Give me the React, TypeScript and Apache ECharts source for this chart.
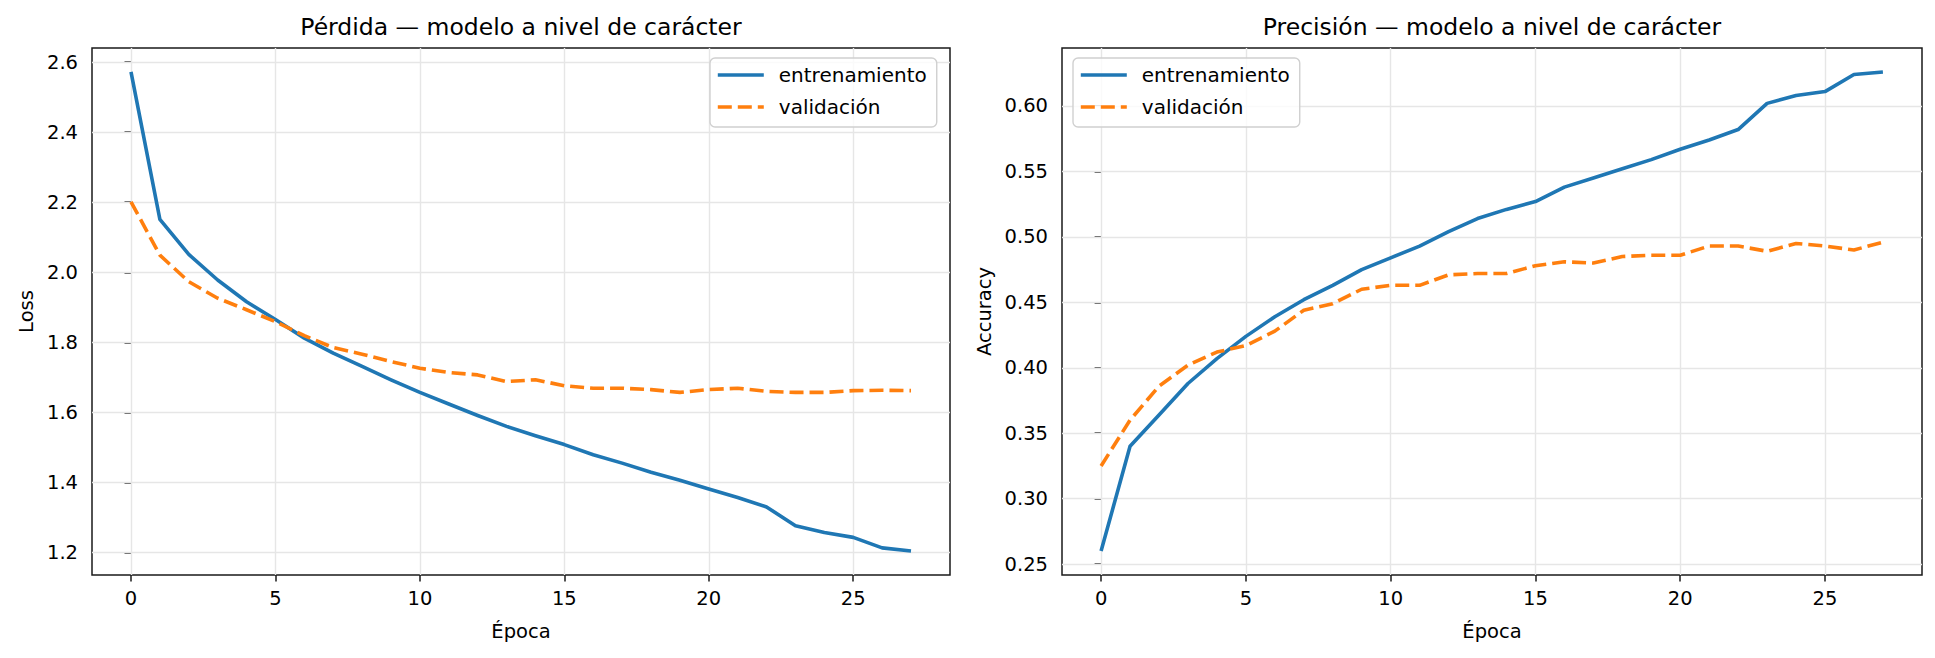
import React, { useEffect, useRef } from "react";
import * as echarts from "echarts";

const epochs = [0, 1, 2, 3, 4, 5, 6, 7, 8, 9, 10, 11, 12, 13, 14, 15, 16, 17, 18, 19, 20, 21, 22, 23, 24, 25, 26, 27];

const lossTrain = [2.572, 2.151, 2.051, 1.978, 1.916, 1.865, 1.812, 1.769, 1.731, 1.693, 1.657, 1.624, 1.591, 1.560, 1.533, 1.508, 1.479, 1.455, 1.429, 1.406, 1.381, 1.357, 1.330, 1.276, 1.257, 1.243, 1.213, 1.204];
const lossVal = [2.201, 2.049, 1.973, 1.926, 1.893, 1.859, 1.819, 1.785, 1.766, 1.745, 1.726, 1.714, 1.707, 1.688, 1.693, 1.676, 1.669, 1.669, 1.665, 1.657, 1.665, 1.669, 1.660, 1.657, 1.657, 1.662, 1.663, 1.662];

const accTrain = [0.260, 0.340, 0.364, 0.388, 0.407, 0.424, 0.439, 0.452, 0.463, 0.475, 0.484, 0.493, 0.504, 0.514, 0.521, 0.527, 0.538, 0.545, 0.552, 0.559, 0.567, 0.574, 0.582, 0.602, 0.608, 0.611, 0.624, 0.626];
const accVal = [0.325, 0.360, 0.386, 0.402, 0.412, 0.417, 0.428, 0.444, 0.449, 0.460, 0.463, 0.463, 0.471, 0.472, 0.472, 0.478, 0.481, 0.480, 0.485, 0.486, 0.486, 0.493, 0.493, 0.489, 0.495, 0.493, 0.490, 0.496];

const xTicks = [0, 5, 10, 15, 20, 25];
const lossTicks = [1.2, 1.4, 1.6, 1.8, 2.0, 2.2, 2.4, 2.6];
const accTicks = [0.25, 0.3, 0.35, 0.4, 0.45, 0.5, 0.55, 0.6];

const titles = ["Pérdida — modelo a nivel de carácter", "Precisión — modelo a nivel de carácter"];
const seriesNames = ["entrenamiento", "validación"];
const xName = "Época";
const yNames = ["Loss", "Accuracy"];

const FONT = "DejaVu Sans";
const BLUE = "#1f77b4";
const ORANGE = "#ff7f0e";
const SPINE = "#1a1a1a";
const GRIDC = "#e6e6e6";
const LW = 3.6;

function padRange(arr: number[][]) {
  const all = arr.flat();
  const mn = Math.min(...all);
  const mx = Math.max(...all);
  const p = (mx - mn) * 0.05;
  return [mn - p, mx + p];
}

export default function App() {
  const ref = useRef<HTMLDivElement>(null);
  useEffect(() => {
    if (!ref.current) return;
    const chart = echarts.init(ref.current, undefined, { renderer: "svg" });
    const xMin = epochs[0] - 0.05 * (epochs[epochs.length - 1] - epochs[0]);
    const xMax = epochs[epochs.length - 1] + 0.05 * (epochs[epochs.length - 1] - epochs[0]);
    const lossR = padRange([lossTrain, lossVal]);
    const accR = padRange([accTrain, accVal]);

    const grids = [
      { left: 92, top: 48, width: 858, height: 527 },
      { left: 1062, top: 48, width: 860, height: 527 },
    ].map((g) => ({ ...g, show: true, borderColor: SPINE, borderWidth: 1.5, backgroundColor: "transparent" }));

    const xAxis = [0, 1].map((i) => ({
      type: "value",
      gridIndex: i,
      min: xMin,
      max: xMax,
      name: xName,
      nameLocation: "middle",
      nameGap: 46,
      nameTextStyle: { fontFamily: FONT, fontSize: 19.5, color: "#000" },
      axisLine: { show: false },
      splitLine: { show: false },
      axisTick: { show: true, customValues: xTicks, length: 6.5, lineStyle: { color: SPINE, width: 1.5 } },
      axisLabel: {
        customValues: xTicks,
        margin: 13,
        fontFamily: FONT,
        fontSize: 19.5,
        color: "#000",
        formatter: (v: number) => String(Math.round(v)),
      },
    }));

    const yAxis = [
      { range: lossR, ticks: lossTicks, dec: 1, gap: 56, name: yNames[0] },
      { range: accR, ticks: accTicks, dec: 2, gap: 68, name: yNames[1] },
    ].map((a, i) => ({
      type: "value",
      gridIndex: i,
      min: a.range[0],
      max: a.range[1],
      name: a.name,
      nameLocation: "middle",
      nameGap: a.gap,
      nameRotate: 90,
      nameTextStyle: { fontFamily: FONT, fontSize: 19.5, color: "#000" },
      axisLine: { show: false },
      splitLine: { show: false },
      axisTick: { show: true, customValues: a.ticks, length: 6.5, lineStyle: { color: SPINE, width: 1.5 } },
      axisLabel: {
        customValues: a.ticks,
        margin: 14,
        fontFamily: FONT,
        fontSize: 19.5,
        color: "#000",
        formatter: (v: number) => v.toFixed(a.dec),
      },
    }));

    const gridLines = (i: number, yt: number[]) => ({
      type: "line",
      name: "_grid" + i,
      xAxisIndex: i,
      yAxisIndex: i,
      data: [],
      z: 1,
      silent: true,
      markLine: {
        silent: true,
        z: 1,
        symbol: ["none", "none"],
        label: { show: false },
        emphasis: { disabled: true },
        lineStyle: { color: GRIDC, width: 1.4, type: "solid" },
        data: [...xTicks.map((v) => ({ xAxis: v })), ...yt.map((v) => ({ yAxis: v }))],
      },
    });

    const mk = (i: number, name: string, vals: number[], color: string, dashed: boolean) => ({
      type: "line",
      name,
      xAxisIndex: i,
      yAxisIndex: i,
      data: epochs.map((e, k) => [e, vals[k]]),
      showSymbol: false,
      symbol: "none",
      z: 3,
      color,
      lineStyle: { color, width: LW, type: dashed ? [14, 6] : "solid", cap: "butt", join: "round" },
    });

    const legendBase = {
      orient: "vertical",
      top: 58,
      data: seriesNames,
      itemWidth: 46,
      itemHeight: 14,
      itemGap: 10,
      padding: [6, 10, 9, 6],
      backgroundColor: "rgba(255,255,255,0.8)",
      borderColor: "#d0d0d0",
      borderWidth: 1.4,
      borderRadius: 5,
      selectedMode: false,
      itemStyle: { opacity: 0 },
      lineStyle: { width: LW },
      textStyle: { fontFamily: FONT, fontSize: 20, color: "#000", lineHeight: 22, padding: [0, 0, 0, 10] },
    };

    chart.setOption({
      animation: false,
      backgroundColor: "#fff",
      grid: grids,
      xAxis,
      yAxis,
      legend: [
        { ...legendBase, left: 710 },
        { ...legendBase, left: 1073 },
      ],
      graphic: [
        {
          type: "text",
          x: 521,
          y: 27,
          style: { text: titles[0], fontFamily: FONT, fontSize: 23.5, fill: "#000", align: "center", verticalAlign: "middle" },
        },
        {
          type: "text",
          x: 1492,
          y: 27,
          style: { text: titles[1], fontFamily: FONT, fontSize: 23.5, fill: "#000", align: "center", verticalAlign: "middle" },
        },
      ],
      series: [
        gridLines(0, lossTicks),
        gridLines(1, accTicks),
        mk(0, seriesNames[0], lossTrain, BLUE, false),
        mk(0, seriesNames[1], lossVal, ORANGE, true),
        mk(1, seriesNames[0], accTrain, BLUE, false),
        mk(1, seriesNames[1], accVal, ORANGE, true),
      ],
    });
    return () => chart.dispose();
  }, []);
  return <div ref={ref} style={{ position: "absolute", left: 0, top: 0, width: 1935, height: 658, background: "#fff" }} />;
}
